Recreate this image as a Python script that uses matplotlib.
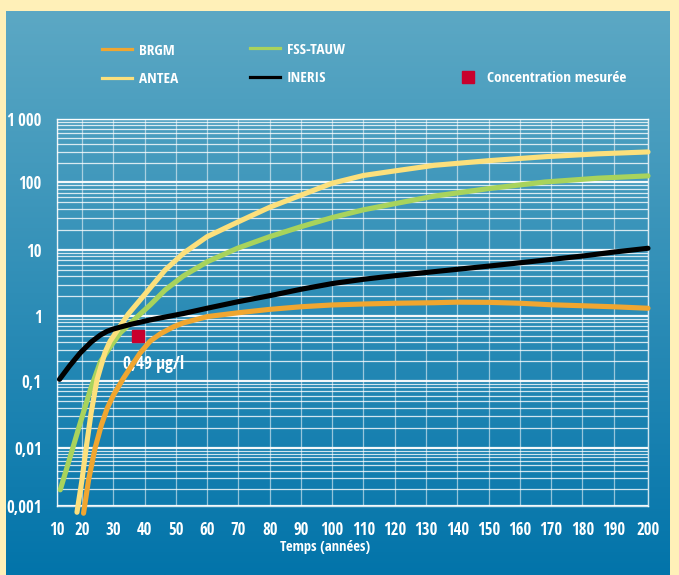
import numpy as np
import matplotlib
matplotlib.use("Agg")
import matplotlib.pyplot as plt
from matplotlib import font_manager
from matplotlib.lines import Line2D
from matplotlib.ticker import FixedLocator, FixedFormatter, NullFormatter

# ---- data -------------------------------------------------------------
years_brgm = [20.5, 22.1, 24.2, 26.2, 28.1, 30.1, 33.3, 35.4, 38.6, 41.8, 45, 49.2, 52.3,
              60.1, 70, 80, 90, 100, 110, 120, 132.6, 140, 150, 160, 170, 180, 190, 200]
conc_brgm = [0.00075, 0.0028, 0.010, 0.022, 0.0395, 0.062, 0.111, 0.158, 0.27, 0.41, 0.53,
             0.68, 0.78, 0.98, 1.12, 1.26, 1.38, 1.47, 1.52, 1.56, 1.59, 1.62, 1.61, 1.56,
             1.48, 1.43, 1.38, 1.31]

years_antea = [18, 20, 21.4, 22.9, 24.8, 25.9, 27.4, 29, 31.6, 34.8, 38.6, 41.8, 46.6,
               52.4, 60, 70, 80, 90, 100, 110, 120, 132.6, 150, 168, 185, 200]
conc_antea = [0.00078, 0.0028, 0.0105, 0.033, 0.104, 0.158, 0.279, 0.41, 0.63, 1.07, 1.75,
              2.66, 4.98, 8.9, 15.7, 26, 42.5, 64, 96, 127, 150, 184, 218, 252, 280, 300]

years_fss = [11.3, 15.3, 19.3, 22.65, 25.85, 29, 32.2, 34.9, 38.6, 41.8, 46.6, 52.4, 60.1,
             69.7, 80, 90, 100, 110, 120, 132.6, 150, 168, 185, 200]
conc_fss = [0.0019, 0.0071, 0.0236, 0.0734, 0.196, 0.333, 0.547, 0.727, 1.07, 1.47, 2.48,
            4.04, 6.65, 10.6, 15.7, 22, 30, 39, 48, 62, 80, 100, 115, 125]

years_ineris = [11, 15, 19.3, 23, 25.9, 28, 30, 32.5, 35.4, 41.8, 52.4, 60, 70, 80, 90,
                100, 110, 120, 132.6, 140, 150, 160, 170, 180, 190, 200]
conc_ineris = [0.106, 0.17, 0.27, 0.40, 0.51, 0.58, 0.63, 0.68, 0.74, 0.87, 1.09, 1.31,
               1.65, 2.03, 2.54, 3.1, 3.6, 4.08, 4.7, 5.1, 5.7, 6.4, 7.2, 8.1, 9.3, 10.6]

measured_year = 38
measured_conc = 0.49
measured_label = "0,49 µg/l"

series_names = ["BRGM", "ANTEA", "FSS-TAUW", "INERIS"]
measure_name = "Concentration mesurée"

x_ticks = list(range(10, 201, 10))
y_ticks = [0.001, 0.01, 0.1, 1, 10, 100, 1000]
y_tick_labels = ["0,001", "0,01", "0,1", "1", "10", "100", "1\u2009000"]
x_title = "Temps (années)"

# hand-ruled paper: spacing of the printed grid (relative units)
x_knots = [10, 20, 190, 200]
x_knot_pos = [0, 25, 557.3, 591.6]
y_decades = [-3, -2, -1, 0, 1, 2, 3]
y_decade_pos = [0, 58, 125, 190, 256, 324, 387]


def piecewise(v, xs, ys):
    v = np.asarray(v, dtype=float)
    out = np.interp(v, xs, ys)
    lo_slope = (ys[1] - ys[0]) / (xs[1] - xs[0])
    hi_slope = (ys[-1] - ys[-2]) / (xs[-1] - xs[-2])
    out = np.where(v < xs[0], ys[0] + (v - xs[0]) * lo_slope, out)
    out = np.where(v > xs[-1], ys[-1] + (v - xs[-1]) * hi_slope, out)
    return out


def x_fwd(v):
    return piecewise(v, x_knots, x_knot_pos)


def x_inv(u):
    return piecewise(u, x_knot_pos, x_knots)


def y_fwd(v):
    v = np.clip(np.asarray(v, dtype=float), 1e-12, None)
    return piecewise(np.log10(v), y_decades, y_decade_pos)


def y_inv(u):
    return 10.0 ** piecewise(u, y_decade_pos, y_decades)


# ---- fonts: prefer a narrow bold face ----------------------------------
def pick_condensed():
    entries = font_manager.fontManager.ttflist
    names = {f.name for f in entries}
    for cand in ["Open Sans Condensed", "Roboto Condensed", "Liberation Sans Narrow",
                 "Noto Sans Condensed", "DejaVu Sans Condensed", "Arial Narrow"]:
        if cand in names:
            return [cand, "DejaVu Sans"], "normal"
    for f in entries:
        if "condensed" in str(f.stretch).lower() or "narrow" in f.name.lower() \
                or "condensed" in f.name.lower():
            return [f.name, "DejaVu Sans"], f.stretch
    return ["DejaVu Sans"], "normal"


FONT, STRETCH = pick_condensed()
TXT = dict(family=FONT, weight="bold", stretch=STRETCH)

# ---- style ------------------------------------------------------------
C_BRGM = "#F0A630"
C_ANTEA = "#FCE07C"
C_FSS = "#A8D35C"
C_INERIS = "#000000"
C_MEAS = "#C8002D"
FRAME = "#FFF0B8"

W, H = 679, 575
fig = plt.figure(figsize=(W / 100, H / 100), dpi=100)
fig.patch.set_facecolor(FRAME)

# blue gradient panel
bg = fig.add_axes([6 / W, 0, (W - 6 - 9) / W, (H - 11) / H], zorder=-5)
top_c = np.array([92, 168, 196]) / 255
bot_c = np.array([2, 116, 170]) / 255
t = np.linspace(0, 1, 256)[:, None]
grad = (top_c[None, :] * (1 - t) + bot_c[None, :] * t)[:, None, :]
bg.imshow(grad, aspect="auto", extent=[0, 1, 0, 1], interpolation="bilinear")
bg.set_axis_off()

ax = fig.add_axes([57 / W, (H - 506) / H, (648 - 57) / W, (506 - 119) / H])
ax.set_facecolor("none")
ax.set_xscale("function", functions=(x_fwd, x_inv))
ax.set_yscale("function", functions=(y_fwd, y_inv))
ax.set_xlim(10, 200)
ax.set_ylim(0.001, 1000)

# grid
y_minor = [k * 10.0 ** d for d in range(-3, 3) for k in range(2, 10)]
ax.xaxis.set_major_locator(FixedLocator(x_ticks))
ax.xaxis.set_major_formatter(FixedFormatter([str(v) for v in x_ticks]))
ax.xaxis.set_minor_locator(FixedLocator([]))
ax.yaxis.set_major_locator(FixedLocator(y_ticks))
ax.yaxis.set_major_formatter(FixedFormatter(y_tick_labels))
ax.yaxis.set_minor_locator(FixedLocator(y_minor))
ax.yaxis.set_minor_formatter(NullFormatter())
ax.grid(True, axis="x", which="major", color="white", lw=0.9, alpha=0.55, zorder=0)
ax.grid(True, axis="y", which="major", color="white", lw=1.6, alpha=0.95, zorder=0)
ax.grid(True, axis="y", which="minor", color="white", lw=0.9, alpha=0.8, zorder=0)
ax.set_axisbelow(True)
for s in ax.spines.values():
    s.set_color("white")
    s.set_alpha(0.8)
    s.set_linewidth(1.0)

ax.tick_params(which="both", length=0)
ax.tick_params(axis="y", pad=11)
ax.tick_params(axis="x", pad=11)
for lab in ax.get_xticklabels() + ax.get_yticklabels():
    lab.set_family(FONT)
    lab.set_fontweight("bold")
    lab.set_fontstretch(STRETCH)
    lab.set_fontsize(12)
    lab.set_color("white")

lw = 3.7
kw = dict(lw=lw, solid_capstyle="round", solid_joinstyle="round", clip_on=False)
ax.plot(years_fss, conc_fss, color=C_FSS, zorder=3, **kw)
ax.plot(years_antea, conc_antea, color=C_ANTEA, zorder=4, **kw)
ax.plot(years_brgm, conc_brgm, color=C_BRGM, zorder=4, **kw)
ax.plot(years_ineris, conc_ineris, color=C_INERIS, zorder=5, **kw)
ax.plot([measured_year], [measured_conc], ls="none", marker="s", ms=9.2,
        color=C_MEAS, zorder=6)
ax.annotate(measured_label, (measured_year, measured_conc), xytext=(-11, -20),
            textcoords="offset points", ha="left", va="center", color="white",
            fontsize=12.5, **TXT)

fig.text(325 / W, 1 - 547 / H, x_title, ha="center", va="center", color="white",
         fontsize=10.5, **TXT)

# legend, three columns
lk = dict(lw=2.3)
h_brgm = Line2D([], [], color=C_BRGM, **lk)
h_antea = Line2D([], [], color=C_ANTEA, **lk)
h_fss = Line2D([], [], color=C_FSS, **lk)
h_ineris = Line2D([], [], color=C_INERIS, **lk)
h_meas = Line2D([], [], ls="none", marker="s", ms=9, color=C_MEAS)
LEG_SIZE = 11
leg_kw = dict(frameon=False, borderpad=0, borderaxespad=0, handlelength=1.95,
              handletextpad=0.45, labelspacing=0.95, labelcolor="white",
              prop=dict(family=FONT, weight="bold", stretch=STRETCH, size=LEG_SIZE))
l1 = fig.legend([h_brgm, h_antea], series_names[0:2], loc="center left",
                bbox_to_anchor=(102 / W, 1 - 65 / H), **leg_kw)
l2 = fig.legend([h_fss, h_ineris], series_names[2:4], loc="center left",
                bbox_to_anchor=(250 / W, 1 - 64 / H), **leg_kw)
l3 = fig.legend([h_meas], [measure_name], loc="center left",
                bbox_to_anchor=(453 / W, 1 - 78.5 / H),
                **{**leg_kw, "handletextpad": 0.3})

fig.savefig("out.png", dpi=100, facecolor=fig.get_facecolor())
